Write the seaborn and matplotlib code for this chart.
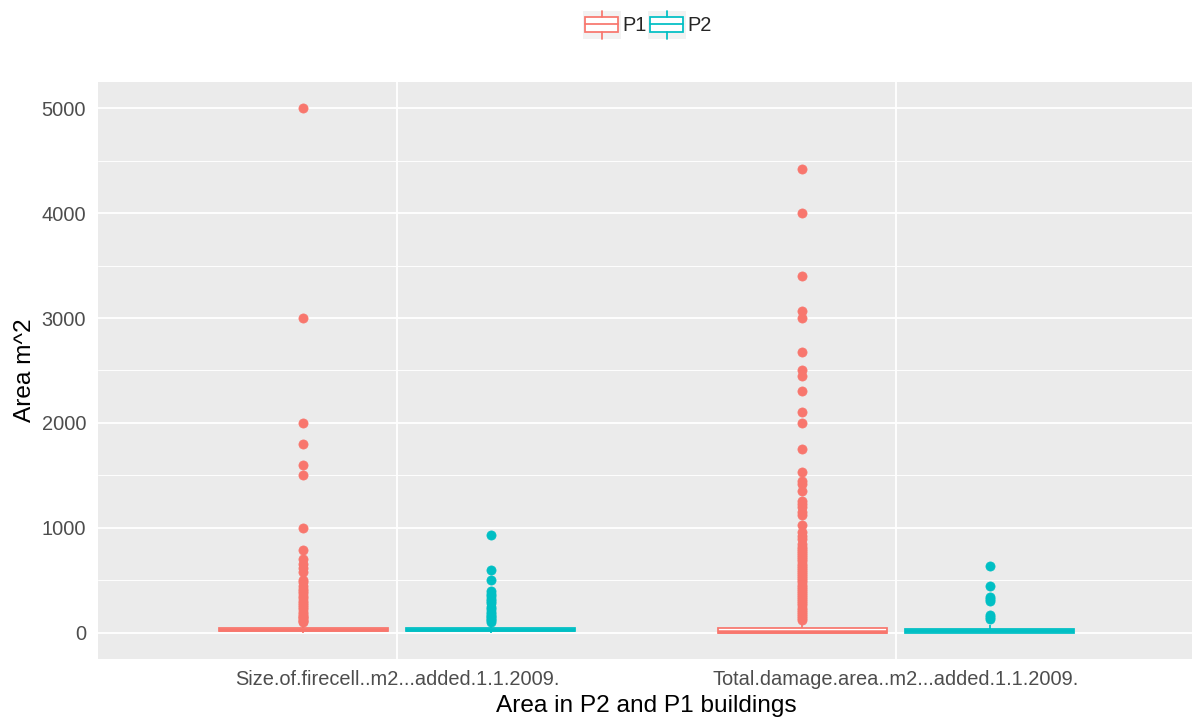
import numpy as np
import pandas as pd
import matplotlib
matplotlib.use("Agg")
import matplotlib.pyplot as plt
from matplotlib.ticker import MultipleLocator
from matplotlib.legend_handler import HandlerBase
from matplotlib.patches import Rectangle
from matplotlib.lines import Line2D
import seaborn as sns

# ---- data -------------------------------------------------------------
categories = ["Size.of.firecell..m2...added.1.1.2009.",
              "Total.damage.area..m2...added.1.1.2009."]
groups = ["P1", "P2"]
colors = ["#F8766D", "#00BFC4"]

# bulk of each distribution as a frequency table (value, count)
fire_p1_values = [0, 15, 30, 48, 95]
fire_p1_counts = [100, 300, 400, 300, 100]
fire_p2_values = [0, 15, 30, 48, 95]
fire_p2_counts = [100, 300, 400, 300, 100]
damage_p1_values = [0, 5, 45, 110]
damage_p1_counts = [400, 300, 500, 100]
damage_p2_values = [0, 20, 40, 75]
damage_p2_counts = [350, 400, 350, 100]

# individual large observations
fire_p1_outliers = [5000, 3000, 2000, 1800, 1600, 1500, 1000, 790, 700, 660,
                    620, 580, 500, 480, 450, 420, 400, 380, 350, 330, 300,
                    280, 260, 250, 230, 200, 180, 160, 150, 140, 120, 110, 100]
fire_p2_outliers = [930, 600, 500, 400, 370, 350, 320, 300, 280, 250, 230,
                    200, 180, 160, 150, 130, 120, 100]
damage_p1_outliers = [4420, 4000, 3400, 3070, 3000, 2680, 2500, 2450, 2300,
                      2100, 2000, 1750, 1530, 1450, 1420, 1350, 1260, 1230,
                      1200, 1150, 1120, 1030, 960, 920, 890, 850, 820, 800,
                      780, 760, 740, 720, 700, 680, 660, 640, 620, 600, 580,
                      560, 540, 520, 500, 480, 460, 440, 420, 400, 380, 360,
                      340, 320, 300, 280, 260, 240, 220, 200, 180, 160, 140, 125]
damage_p2_outliers = [640, 450, 340, 320, 300, 170, 150, 130]

series = [
    (categories[0], "P1", fire_p1_values, fire_p1_counts, fire_p1_outliers),
    (categories[0], "P2", fire_p2_values, fire_p2_counts, fire_p2_outliers),
    (categories[1], "P1", damage_p1_values, damage_p1_counts, damage_p1_outliers),
    (categories[1], "P2", damage_p2_values, damage_p2_counts, damage_p2_outliers),
]
frames = []
for cat, grp, vals, cnts, outs in series:
    v = np.concatenate([np.repeat(vals, cnts), np.asarray(outs, float)])
    frames.append(pd.DataFrame({"variable": cat, "group": grp, "value": v}))
df = pd.concat(frames, ignore_index=True)

# ---- style ------------------------------------------------------------
sns.set_theme(style="darkgrid")
plt.rcParams["font.family"] = ["Liberation Sans", "DejaVu Sans"]

W, H = 1192, 727
fig = plt.figure(figsize=(W / 100, H / 100), dpi=100)
left, right, top, bottom = 97.6, 1195.4, 82, 659
ax = fig.add_axes([left / W, (H - bottom) / H, (right - left) / W, (bottom - top) / H])
ax.set_facecolor("#EBEBEB")

lw = 1.26
for grp, col in zip(groups, colors):
    sub = df[df["group"] == grp]
    sns.boxplot(data=sub, x="variable", y="value", hue="group",
                order=categories, hue_order=groups,
                palette={g: "white" for g in groups}, linecolor=col,
                fill=True, dodge=True, width=0.75, gap=0.1,
                linewidth=lw, showcaps=False, whis=1.5, fliersize=6.6,
                flierprops=dict(marker="o", markersize=6.6,
                                markerfacecolor=col, markeredgecolor=col,
                                markeredgewidth=0.5),
                medianprops=dict(linewidth=lw * 2),
                legend=False, ax=ax)

for s in ax.spines.values():
    s.set_visible(False)

ax.set_xlim(-0.6, 1.6)
ax.set_ylim(-250, 5250)
ax.yaxis.set_major_locator(MultipleLocator(1000))
ax.yaxis.set_minor_locator(MultipleLocator(500))
ax.grid(True, which="major", axis="both", color="white", linewidth=1.3)
ax.grid(True, which="minor", axis="y", color="white", linewidth=0.65)
ax.set_axisbelow(True)

ax.tick_params(axis="both", which="major", length=4.8, width=1.2,
               color="#333333", labelcolor="#4D4D4D", labelsize=14.4, pad=3)
ax.tick_params(axis="y", which="minor", length=0)
ax.tick_params(axis="y", which="major", pad=3.5)
ax.set_xlabel("Area in P2 and P1 buildings", fontsize=17.6, color="black", labelpad=4.5)
ax.set_ylabel("Area m^2", fontsize=17.6, color="black", labelpad=4)


# ---- legend with boxplot glyph keys ---------------------------------------
class BoxKey(HandlerBase):
    def create_artists(self, legend, orig_handle, xdescent, ydescent,
                       width, height, fontsize, trans):
        col = orig_handle.get_edgecolor()
        x0, y0 = -xdescent, -ydescent
        arts = [Rectangle((x0, y0), width, height, facecolor="#F2F2F2",
                          edgecolor="none", transform=trans)]
        bx, bw = x0 + 0.06 * width, 0.88 * width
        by, bh = y0 + 0.27 * height, 0.5 * height
        arts.append(Rectangle((bx, by), bw, bh, facecolor="white", edgecolor=col,
                              linewidth=lw, transform=trans))
        arts.append(Line2D([bx, bx + bw], [by + bh / 2] * 2, color=col,
                           linewidth=lw, transform=trans))
        cx = x0 + width / 2
        arts.append(Line2D([cx, cx], [by + bh, y0 + height], color=col,
                           linewidth=lw, transform=trans))
        arts.append(Line2D([cx, cx], [y0, by], color=col,
                           linewidth=lw, transform=trans))
        return arts


handles = [Rectangle((0, 0), 1, 1, facecolor="white", edgecolor=c) for c in colors]
fig.legend(handles, groups, loc="center", bbox_to_anchor=(647 / W, 1 - 25 / H),
           ncol=2, frameon=False, fontsize=14.4, handlelength=1.9,
           handleheight=1.8, handletextpad=0.08, columnspacing=0.05,
           borderpad=0, borderaxespad=0,
           handler_map={h: BoxKey() for h in handles})

fig.savefig("out.png", dpi=100)
